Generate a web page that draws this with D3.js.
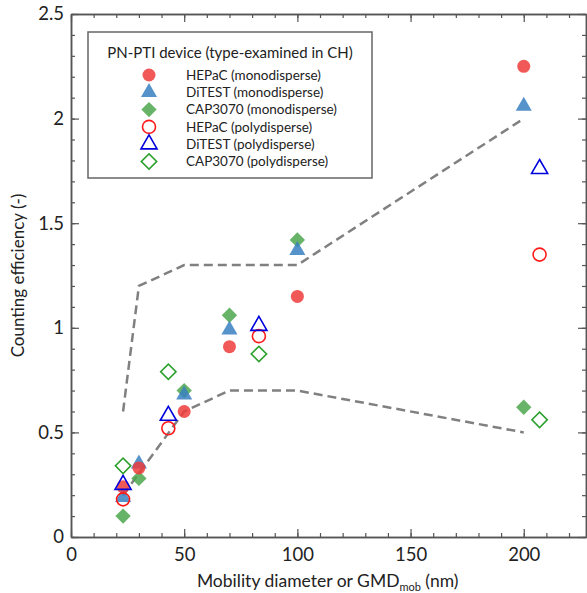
<!DOCTYPE html>
<html>
<head>
<meta charset="utf-8">
<script src="https://cdn.jsdelivr.net/npm/d3@7"></script>
<style>
body{margin:0;background:#fff;}
text{font-family:Lato,"Open Sans",sans-serif;fill:#222;}
</style>
</head>
<body>
<div id="chart"></div>
<script>
// monodisperse sizes and polydisperse GMDs (nm)
var monoX = [23,30,50,70,100,200];
var polyX = [23,43,83,207];

var hepacMono = [0.24,0.33,0.60,0.91,1.15,2.25];
var ditestMono = [0.19,0.35,0.68,0.99,1.37,2.06];
var capMono = [0.10,0.28,0.70,1.06,1.42,0.62];
var hepacPoly = [0.18,0.52,0.96,1.35];
var ditestPoly = [0.25,0.58,1.01,1.76];
var capPoly = [0.34,0.79,0.875,0.56];

// tolerance band
var upperX = [23,30,50,100,200];
var upperY = [0.6,1.2,1.3,1.3,2.0];
var lowerX = [23,50,70,100,200];
var lowerY = [0.2,0.6,0.7,0.7,0.5];

var legendTitle = "PN-PTI device (type-examined in CH)";
var seriesNames = ["HEPaC (monodisperse)","DiTEST (monodisperse)","CAP3070 (monodisperse)",
                   "HEPaC (polydisperse)","DiTEST (polydisperse)","CAP3070 (polydisperse)"];
var xTicks = [0,50,100,150,200];
var yTicks = [0,0.5,1,1.5,2,2.5];

var w = 587, h = 593;
var mLeft = 71, mRight = 586, mTop = 14, mBottom = 537;

var svg = d3.select("#chart").append("svg")
	.attr("width", w)
	.attr("height", h);

var xScale = d3.scaleLinear().domain([0,227.5]).range([mLeft,mRight]);
var yScale = d3.scaleLinear().domain([0,2.5]).range([mBottom,mTop]);

var xMinor = d3.range(0,227,10);
var yMinor = d3.range(0,2.51,0.1);

function styleAxis(g){
	g.selectAll(".domain").attr("stroke","#555").attr("stroke-width",1.5);
	g.selectAll(".tick line").attr("stroke","#555").attr("stroke-width",1.2);
	g.selectAll("text").attr("font-size",18.5).attr("fill","#222").attr("font-family","Lato");
}

// minor ticks first, all pointing inside
svg.append("g").attr("transform","translate(0,"+mBottom+")")
	.call(d3.axisBottom(xScale).tickValues(xMinor).tickFormat("").tickSize(-4).tickSizeOuter(0)).call(styleAxis);
svg.append("g").attr("transform","translate(0,"+mTop+")")
	.call(d3.axisTop(xScale).tickValues(xMinor).tickFormat("").tickSize(-4).tickSizeOuter(0)).call(styleAxis);
svg.append("g").attr("transform","translate("+mLeft+",0)")
	.call(d3.axisLeft(yScale).tickValues(yMinor).tickFormat("").tickSize(-4).tickSizeOuter(0)).call(styleAxis);
svg.append("g").attr("transform","translate("+mRight+",0)")
	.call(d3.axisRight(yScale).tickValues(yMinor).tickFormat("").tickSize(-4).tickSizeOuter(0)).call(styleAxis);

// major ticks
svg.append("g").attr("transform","translate(0,"+mBottom+")")
	.call(d3.axisBottom(xScale).tickValues(xTicks).tickFormat(d3.format("d")).tickSize(-8).tickSizeOuter(0).tickPadding(11))
	.call(styleAxis);
svg.append("g").attr("transform","translate(0,"+mTop+")")
	.call(d3.axisTop(xScale).tickValues(xTicks).tickFormat("").tickSize(-8).tickSizeOuter(0)).call(styleAxis);
svg.append("g").attr("transform","translate("+mLeft+",0)")
	.call(d3.axisLeft(yScale).tickValues(yTicks).tickFormat(d3.format("")).tickSize(-8).tickSizeOuter(0).tickPadding(7))
	.call(styleAxis);
svg.append("g").attr("transform","translate("+mRight+",0)")
	.call(d3.axisRight(yScale).tickValues(yTicks).tickFormat("").tickSize(-8).tickSizeOuter(0)).call(styleAxis);

// axis titles
svg.append("text")
	.attr("transform","translate(24,"+((mTop+mBottom)/2)+") rotate(-90)")
	.style("text-anchor","middle")
	.attr("font-size",17)
	.text("Counting efficiency (-)");

var xt = svg.append("text")
	.attr("x",(mLeft+xScale(225))/2+2)
	.attr("y",587)
	.style("text-anchor","middle")
	.attr("font-size",17.5);
xt.append("tspan").text("Mobility diameter or GMD");
xt.append("tspan").attr("font-size",11).attr("dy",4).text("mob");
xt.append("tspan").attr("dy",-4).text(" (nm)");

// dashed band
var line = d3.line()
	.x(function(d){ return xScale(d[0]); })
	.y(function(d){ return yScale(d[1]); });
[[upperX,upperY],[lowerX,lowerY]].forEach(function(b){
	svg.append("path")
		.datum(d3.zip(b[0],b[1]))
		.attr("d",line)
		.attr("fill","none")
		.attr("stroke","#808080")
		.attr("stroke-width",2.5)
		.attr("stroke-dasharray","9,5");
});

var series = [
	{name:seriesNames[2], x:monoX, y:capMono, shape:"diamond", color:"#4ca64c", filled:true},
	{name:seriesNames[1], x:monoX, y:ditestMono, shape:"triangle", color:"#3a80c2", filled:true},
	{name:seriesNames[0], x:monoX, y:hepacMono, shape:"circle", color:"#ee3b3b", filled:true},
	{name:seriesNames[3], x:polyX, y:hepacPoly, shape:"circle", color:"#ff1a1a", filled:false},
	{name:seriesNames[4], x:polyX, y:ditestPoly, shape:"triangle", color:"#0000dd", filled:false},
	{name:seriesNames[5], x:polyX, y:capPoly, shape:"diamond", color:"#2ca02c", filled:false}
];

function symbolPath(shape){
	if(shape==="circle") return d3.symbol().type(d3.symbolCircle).size(Math.PI*6.5*6.5)();
	if(shape==="triangle") return d3.symbol().type(d3.symbolTriangle).size(112)();
	return d3.symbol().type(d3.symbolSquare).size(118)();
}
function drawMarker(g,s,px,py){
	g.append("path")
		.attr("d",symbolPath(s.shape))
		.attr("transform","translate("+px+","+py+")"+(s.shape==="diamond"?" rotate(45)":""))
		.attr("fill",s.filled?s.color:"none")
		.attr("fill-opacity",s.filled?0.85:null)
		.attr("stroke",s.filled?"none":s.color)
		.attr("stroke-width",1.6);
}

series.forEach(function(s){
	var g = svg.append("g");
	for(var i=0;i<s.x.length;i++){
		drawMarker(g,s,xScale(s.x[i]),yScale(s.y[i]));
	}
});

// legend
var lg = svg.append("g");
lg.append("rect")
	.attr("x",88).attr("y",32)
	.attr("width",284).attr("height",146)
	.attr("fill","#fff")
	.attr("stroke","#666")
	.attr("stroke-width",1.5);
lg.append("text")
	.attr("x",230).attr("y",58)
	.style("text-anchor","middle")
	.attr("font-size",15)
	.attr("fill","#222")
	.text(legendTitle);
var order = [2,1,0,3,4,5];
seriesNames.forEach(function(n,i){
	var s = series[order.indexOf(i)];
	var yy = 75 + i*17.3;
	drawMarker(lg,s,149,yy);
	lg.append("text")
		.attr("x",186).attr("y",yy)
		.attr("dy","0.35em")
		.attr("font-size",13.5)
		.attr("fill","#333")
		.text(n);
});
</script>
</body>
</html>
